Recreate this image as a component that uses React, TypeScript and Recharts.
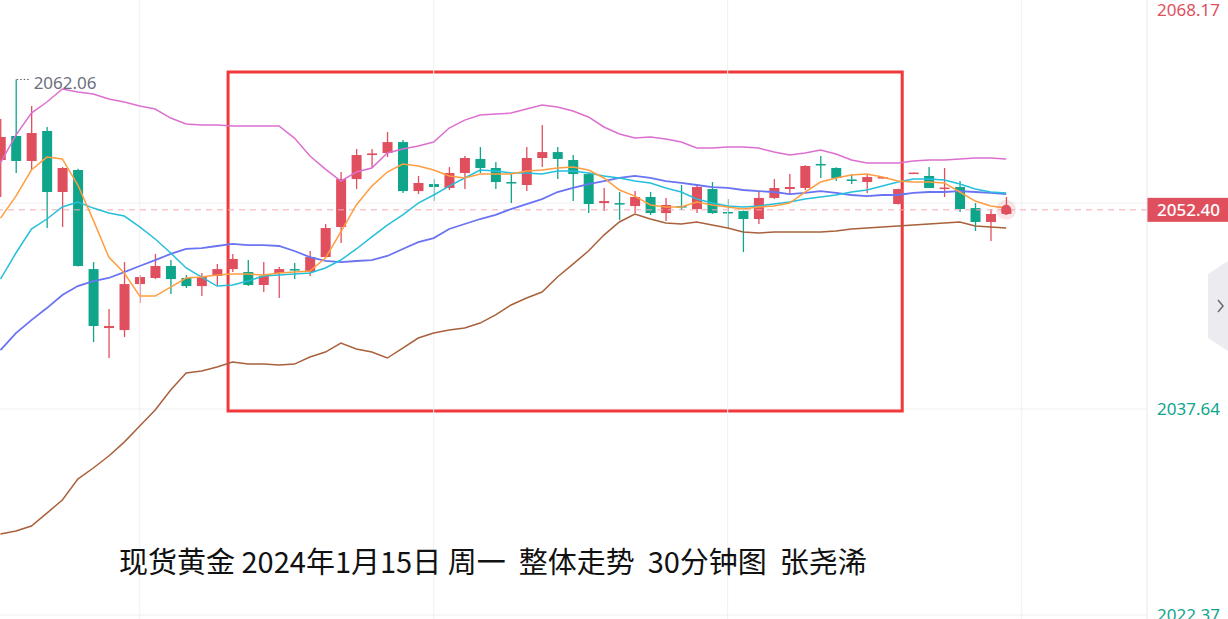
import {
  ComposedChart, Bar, Line, XAxis, YAxis, CartesianGrid,
  ReferenceLine, ReferenceArea, ReferenceDot,
} from 'recharts'

// 30-minute candles, left to right
const OPEN = [
  2056.09, 2057.87, 2056.02, 2058.24, 2053.72, 2055.35, 2048.01, 2043.64, 2043.49, 2046.90,
  2047.35, 2048.24, 2047.35, 2046.75, 2047.50, 2048.01, 2047.79, 2046.83, 2047.72, 2048.01,
  2047.79, 2048.90, 2051.13, 2054.68, 2056.46, 2056.61, 2057.42, 2053.79, 2054.31, 2054.02,
  2055.13, 2056.17, 2055.50, 2054.46, 2054.24, 2056.24, 2056.68, 2056.09, 2055.05, 2052.90,
  2052.90, 2052.68, 2053.35, 2052.16, 2052.68, 2052.46, 2053.94, 2052.24, 2052.31, 2051.72,
  2053.28, 2053.94, 2054.02, 2055.80, 2055.50, 2054.65, 2054.46, 2054.76, 2052.83, 2055.10,
  2054.91, 2053.98, 2054.09, 2052.53, 2051.50, 2052.10,
]
const HIGH = [
  2059.13, 2062.06, 2060.09, 2058.54, 2055.57, 2055.45, 2048.53, 2045.05, 2048.53, 2047.57,
  2049.13, 2048.68, 2047.57, 2047.72, 2048.38, 2049.13, 2048.68, 2048.53, 2048.16, 2048.46,
  2049.35, 2051.35, 2055.20, 2056.91, 2056.91, 2058.17, 2057.57, 2054.91, 2054.68, 2055.57,
  2056.39, 2057.05, 2055.94, 2055.05, 2057.05, 2058.68, 2057.05, 2056.46, 2055.13, 2054.02,
  2053.72, 2053.79, 2053.72, 2053.28, 2054.24, 2054.31, 2054.46, 2053.20, 2052.35, 2053.72,
  2054.68, 2055.05, 2055.70, 2056.39, 2055.55, 2055.05, 2054.98, 2054.85, 2053.97, 2055.16,
  2055.57, 2055.50, 2054.53, 2052.90, 2052.46, 2053.35,
]
const LOW = [
  2053.35, 2055.13, 2055.35, 2051.05, 2051.13, 2048.20, 2042.60, 2041.42, 2042.98, 2045.49,
  2047.27, 2046.16, 2046.61, 2046.01, 2046.83, 2047.79, 2046.75, 2046.31, 2045.87, 2047.27,
  2047.50, 2048.85, 2049.94, 2053.94, 2055.50, 2056.31, 2053.65, 2053.57, 2053.05, 2053.87,
  2053.94, 2055.13, 2053.94, 2052.90, 2053.79, 2055.57, 2054.68, 2053.05, 2052.16, 2052.31,
  2051.64, 2052.16, 2052.02, 2051.57, 2052.39, 2052.16, 2052.10, 2050.98, 2049.27, 2051.35,
  2053.20, 2053.50, 2053.87, 2054.76, 2054.53, 2054.31, 2053.65, 2054.70, 2052.80, 2055.08,
  2054.02, 2053.35, 2052.24, 2050.83, 2050.09, 2052.05,
]
const CLOSE = [
  2057.80, 2056.02, 2058.09, 2053.72, 2055.50, 2048.24, 2043.79, 2043.79, 2046.90, 2047.42,
  2048.24, 2047.27, 2046.75, 2047.42, 2048.01, 2048.76, 2046.83, 2047.50, 2048.01, 2047.94,
  2048.90, 2051.05, 2054.68, 2056.46, 2056.58, 2057.42, 2053.79, 2054.39, 2054.09, 2055.13,
  2056.24, 2055.50, 2054.46, 2054.39, 2056.24, 2056.68, 2056.17, 2055.05, 2052.83, 2053.05,
  2052.83, 2053.35, 2052.16, 2052.76, 2052.61, 2054.09, 2052.16, 2052.16, 2051.72, 2053.28,
  2054.02, 2054.09, 2055.65, 2055.72, 2054.76, 2054.58, 2054.83, 2054.83, 2053.94, 2055.16,
  2054.02, 2054.05, 2052.46, 2051.50, 2052.09, 2052.40,
]

const MA5 = [
  2051.79, 2053.42, 2055.35, 2056.31, 2056.17, 2054.24, 2051.64, 2048.90, 2047.72, 2046.01,
  2046.01, 2046.68, 2047.35, 2047.42, 2047.57, 2047.64, 2047.64, 2047.57, 2047.72, 2047.79,
  2047.87, 2048.83, 2050.76, 2052.76, 2054.16, 2055.20, 2055.79, 2055.65, 2055.35, 2054.91,
  2054.76, 2055.05, 2055.05, 2055.05, 2055.28, 2055.35, 2055.50, 2055.57, 2055.35, 2054.76,
  2053.87, 2053.42, 2052.76, 2052.61, 2052.61, 2052.98, 2052.76, 2052.61, 2052.46, 2052.61,
  2052.68, 2052.90, 2053.72, 2054.46, 2054.76, 2054.98, 2055.05, 2054.83, 2054.53, 2054.46,
  2054.46, 2054.39, 2053.72, 2053.05, 2052.68, 2052.53,
]
const MA10 = [
  2047.27, 2049.20, 2050.98, 2051.72, 2052.61, 2052.98, 2052.53, 2052.16, 2051.94, 2051.13,
  2050.24, 2049.20, 2048.09, 2047.42, 2046.75, 2046.83, 2047.12, 2047.50, 2047.57, 2047.64,
  2047.72, 2048.09, 2048.68, 2049.50, 2050.39, 2051.27, 2052.02, 2052.90, 2053.50, 2054.16,
  2054.76, 2055.35, 2055.28, 2055.13, 2055.13, 2055.05, 2055.28, 2055.28, 2055.13, 2054.91,
  2054.76, 2054.53, 2054.39, 2054.02, 2053.72, 2053.20, 2052.90, 2052.68, 2052.61, 2052.68,
  2052.83, 2052.98, 2053.20, 2053.35, 2053.50, 2053.72, 2053.87, 2054.16, 2054.46, 2054.68,
  2054.68, 2054.61, 2054.31, 2053.94, 2053.72, 2053.65,
]
const BOLL_MID = [
  2042.01, 2043.27, 2044.23, 2045.12, 2046.09, 2046.75, 2047.12, 2047.35, 2047.79, 2048.24,
  2048.68, 2049.13, 2049.50, 2049.57, 2049.72, 2049.87, 2049.79, 2049.79, 2049.72, 2049.35,
  2048.90, 2048.61, 2048.53, 2048.61, 2048.68, 2048.98, 2049.50, 2050.01, 2050.31, 2050.98,
  2051.35, 2051.72, 2052.02, 2052.46, 2052.83, 2053.20, 2053.72, 2054.02, 2054.31, 2054.53,
  2054.76, 2054.91, 2054.76, 2054.53, 2054.39, 2054.24, 2054.09, 2054.02, 2053.87, 2053.79,
  2053.72, 2053.57, 2053.65, 2053.79, 2053.65, 2053.50, 2053.42, 2053.50, 2053.50, 2053.65,
  2053.72, 2053.72, 2053.79, 2053.72, 2053.65, 2053.57,
]
const BOLL_UP = [
  2055.87, 2057.94, 2059.57, 2060.39, 2061.35, 2061.13, 2060.98, 2060.61, 2060.39, 2060.09,
  2059.87, 2059.20, 2058.76, 2058.68, 2058.68, 2058.61, 2058.61, 2058.61, 2058.61, 2057.72,
  2056.39, 2055.42, 2054.53, 2055.20, 2055.50, 2056.61, 2056.91, 2057.13, 2057.42, 2058.46,
  2059.05, 2059.43, 2059.50, 2059.57, 2059.87, 2060.17, 2060.02, 2059.72, 2059.28, 2058.54,
  2058.02, 2057.72, 2057.80, 2057.65, 2057.42, 2056.98, 2056.98, 2057.05, 2057.05, 2056.98,
  2056.68, 2056.46, 2056.61, 2056.83, 2056.54, 2056.09, 2055.87, 2055.87, 2055.87, 2056.02,
  2056.09, 2056.09, 2056.17, 2056.24, 2056.24, 2056.17,
]
const BOLL_LOW = [
  2028.38, 2028.60, 2028.97, 2029.93, 2030.90, 2032.45, 2033.27, 2034.16, 2035.19, 2036.38,
  2037.57, 2039.05, 2040.31, 2040.46, 2040.75, 2041.12, 2040.97, 2040.97, 2040.90, 2040.97,
  2041.49, 2041.86, 2042.53, 2042.09, 2041.86, 2041.42, 2042.16, 2042.90, 2043.27, 2043.49,
  2043.64, 2044.01, 2044.61, 2045.35, 2045.87, 2046.31, 2047.42, 2048.38, 2049.35, 2050.53,
  2051.50, 2052.09, 2051.72, 2051.42, 2051.35, 2051.50, 2051.27, 2051.05, 2050.76, 2050.68,
  2050.76, 2050.76, 2050.76, 2050.76, 2050.83, 2050.98, 2051.05, 2051.13, 2051.20, 2051.27,
  2051.35, 2051.42, 2051.50, 2051.20, 2051.13, 2051.05,
]

const Y_TICKS = [2068.17, 2052.905, 2037.64, 2022.375]
const Y_TICK_LABELS = ['2068.17', '', '2037.64', '2022.37']
const TIME_GRID = [9, 28, 47, 66]
const LAST_PRICE = 2052.40
const SWING_HIGH = 2062.06
const TITLE = '现货黄金 2024年1月15日 周一  整体走势  30分钟图  张尧浠'

const RED = '#e04f5d'
const GREEN = '#0fa58b'
const FONT = '"Noto Sans", Roboto, sans-serif'

const data = OPEN.map((o, i) => ({
  i,
  range: [LOW[i], HIGH[i]],
  open: o, high: HIGH[i], low: LOW[i], close: CLOSE[i],
  ma5: MA5[i], ma10: MA10[i],
  mid: BOLL_MID[i], up: BOLL_UP[i], dn: BOLL_LOW[i],
}))

function Candle(props: any) {
  const { x, y, width, height, payload } = props
  if (!payload) return null
  const { open, close, high, low } = payload
  const top = Math.min(y, y + height)
  const h = Math.abs(height)
  const span = high - low
  const toY = (v: number) => (span > 0 ? top + ((high - v) / span) * h : top)
  const color = close >= open ? RED : GREEN
  const yo = toY(open)
  const yc = toY(close)
  const bodyTop = Math.min(yo, yc)
  const bodyH = Math.max(Math.abs(yo - yc), 1.5)
  const cx = x + width / 2
  return (
    <g>
      <line x1={cx} x2={cx} y1={top} y2={top + h} stroke={color} strokeWidth={1.3} />
      <rect x={x} y={bodyTop} width={width} height={bodyH} fill={color} />
    </g>
  )
}

function PriceTick(props: any) {
  const { x, y, index, payload } = props
  const label = Y_TICK_LABELS[index]
  if (!label) return null
  const ty = Math.max(y, 13)
  return (
    <text x={x} y={ty} dy="0.36em" textAnchor="start" fontSize={17} fontFamily={FONT}
      fill={payload.value > LAST_PRICE ? RED : GREEN}>
      {label}
    </text>
  )
}

function PriceTag(props: any) {
  const { viewBox } = props
  if (!viewBox) return null
  const left = viewBox.x + viewBox.width
  const y = viewBox.y
  return (
    <g>
      <rect x={left} y={y - 12} width={81} height={24} fill={RED} />
      <text x={left + 10} y={y} dy="0.36em" fill="#fff" fontSize={17} fontWeight={500} fontFamily={FONT}>
        {LAST_PRICE.toFixed(2)}
      </text>
    </g>
  )
}

function HighLabel(props: any) {
  const { viewBox } = props
  if (!viewBox) return null
  return (
    <text x={viewBox.x + viewBox.width + 3} y={viewBox.y + 3} dy="0.36em" fill="#6b6f7e"
      fontSize={17} fontFamily={FONT}>
      {SWING_HIGH.toFixed(2)}
    </text>
  )
}

const lineProps = { dot: false, activeDot: false, isAnimationActive: false, type: 'linear' as const }

export default function App() {
  return (
    <div style={{ position: 'absolute', left: 0, top: 0, width: 1228, height: 619, overflow: 'hidden', background: '#fff' }}>
      <div style={{ position: 'absolute', left: 0, top: -3 }}>
        <ComposedChart width={1228} height={625} data={data} margin={{ top: 0, right: 0, bottom: 0, left: 0 }}>
          <CartesianGrid vertical={false} stroke="#f0f0f4" />
          <XAxis dataKey="i" type="number" domain={[-0.03, 74.1]} hide allowDataOverflow />
          <YAxis
            orientation="right"
            width={81}
            domain={[2021.86, 2068.17]}
            allowDataOverflow
            ticks={Y_TICKS}
            interval={0}
            tickSize={0}
            tickMargin={10}
            tickLine={false}
            axisLine={{ stroke: '#e8e8ee' }}
            tick={<PriceTick />}
          />
          {TIME_GRID.map(t => (
            <ReferenceLine key={t} x={t} stroke="#f0f0f4" ifOverflow="visible" />
          ))}
          <ReferenceLine y={LAST_PRICE} stroke="#f4a9b2" strokeDasharray="6 5" label={<PriceTag />} />
          <Line dataKey="up" stroke="#dc6fcf" strokeWidth={1.5} {...lineProps} />
          <Line dataKey="dn" stroke="#a8613b" strokeWidth={1.5} {...lineProps} />
          <Line dataKey="mid" stroke="#6a74f2" strokeWidth={1.8} {...lineProps} />
          <Line dataKey="ma10" stroke="#25bfdc" strokeWidth={1.5} {...lineProps} />
          <Line dataKey="ma5" stroke="#ff9d3f" strokeWidth={1.5} {...lineProps} />
          <Bar dataKey="range" barSize={10} shape={<Candle />} activeBar={false} isAnimationActive={false} />
          <ReferenceLine
            segment={[{ x: 1.05, y: SWING_HIGH }, { x: 1.95, y: SWING_HIGH }]}
            stroke="#555a66" strokeDasharray="1.5 2"
            label={<HighLabel />}
          />
          <ReferenceDot x={65} y={LAST_PRICE} r={10} fill={RED} fillOpacity={0.15} stroke="none" />
          <ReferenceDot x={65} y={LAST_PRICE} r={5} fill={RED} stroke="none" />
          <ReferenceArea x1={14.71} x2={58.28} y1={2037.49} y2={2062.61} fill="none" stroke="#f2383a" strokeWidth={3} ifOverflow="visible" />
        </ComposedChart>
      </div>
      <svg style={{ position: 'absolute', left: 1207, top: 261 }} width={21} height={90}>
        <polygon points="21,0 1,13 1,77 21,90" fill="#ececf0" />
        <polyline points="11,39 16,45 11,51" fill="none" stroke="#6d6f78" strokeWidth={1.6} />
      </svg>
      <div style={{
        position: 'absolute', left: 119, top: 545, fontSize: 29, lineHeight: '30px',
        fontFamily: '"Noto Sans CJK SC", "Noto Sans", sans-serif', color: '#111', whiteSpace: 'pre',
      }}>
        {TITLE}
      </div>
    </div>
  )
}
